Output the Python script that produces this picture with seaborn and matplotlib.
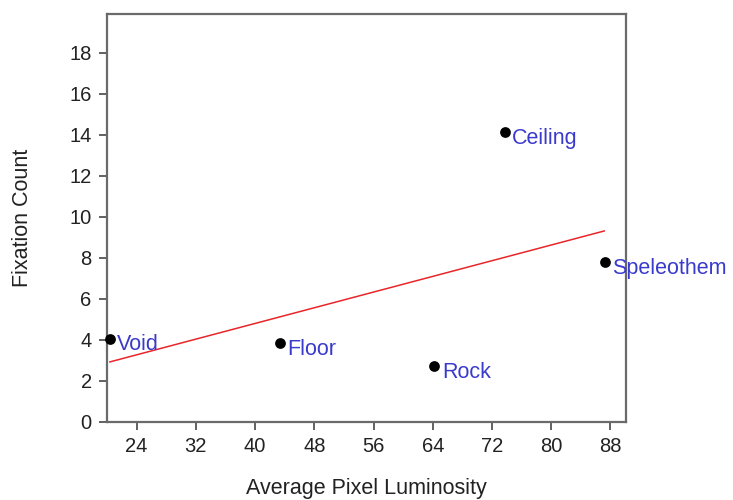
import matplotlib
matplotlib.use("Agg")
import matplotlib.pyplot as plt
import seaborn as sns
import pandas as pd

names = ["Void", "Floor", "Rock", "Ceiling", "Speleothem"]
luminosity = [20.35, 43.3, 64.2, 73.7, 87.2]
fixations = [4.03, 3.83, 2.69, 14.12, 7.77]
x_ticks = [24, 32, 40, 48, 56, 64, 72, 80, 88]
y_ticks = [0, 2, 4, 6, 8, 10, 12, 14, 16, 18]

df = pd.DataFrame({"name": names, "x": luminosity, "y": fixations})

sns.set_style("white")
plt.rcParams['font.family'] = ['Liberation Sans', 'DejaVu Sans']

fig = plt.figure(figsize=(7.33, 5.0), dpi=100)
ax = fig.add_axes([0.146, 0.157, 0.708, 0.815])

sns.regplot(data=df, x="x", y="y", ax=ax, ci=None, truncate=True,
            scatter_kws=dict(s=60, color="black", alpha=1, zorder=3, clip_on=False, linewidths=0),
            line_kws=dict(color="#e8262a", lw=1.1, zorder=2))

for n, xv, yv in zip(names, luminosity, fixations):
    ax.annotate(n, (xv, yv), xytext=(5.5, -4.3), textcoords="offset points",
                color="#3a3acc", fontsize=15.5, ha="left", va="center",
                annotation_clip=False)

ax.set_xlim(20, 90.1)
ax.set_ylim(0, 19.9)
ax.set_xticks(x_ticks)
ax.set_yticks(y_ticks)
ax.tick_params(axis="both", direction="out", length=6, width=1.3, color="#555555",
               labelsize=14.5, labelcolor="#222222", bottom=True, left=True)
ax.tick_params(axis="x", pad=5)
ax.tick_params(axis="y", pad=5)
for sp in ax.spines.values():
    sp.set_color("#6a6a6a")
    sp.set_linewidth(1.6)
ax.set_xlabel("Average Pixel Luminosity", fontsize=15.5, color="#222222", labelpad=16)
ax.set_ylabel("Fixation Count", fontsize=15.5, color="#222222", labelpad=26)

fig.savefig("out.png", dpi=100)
